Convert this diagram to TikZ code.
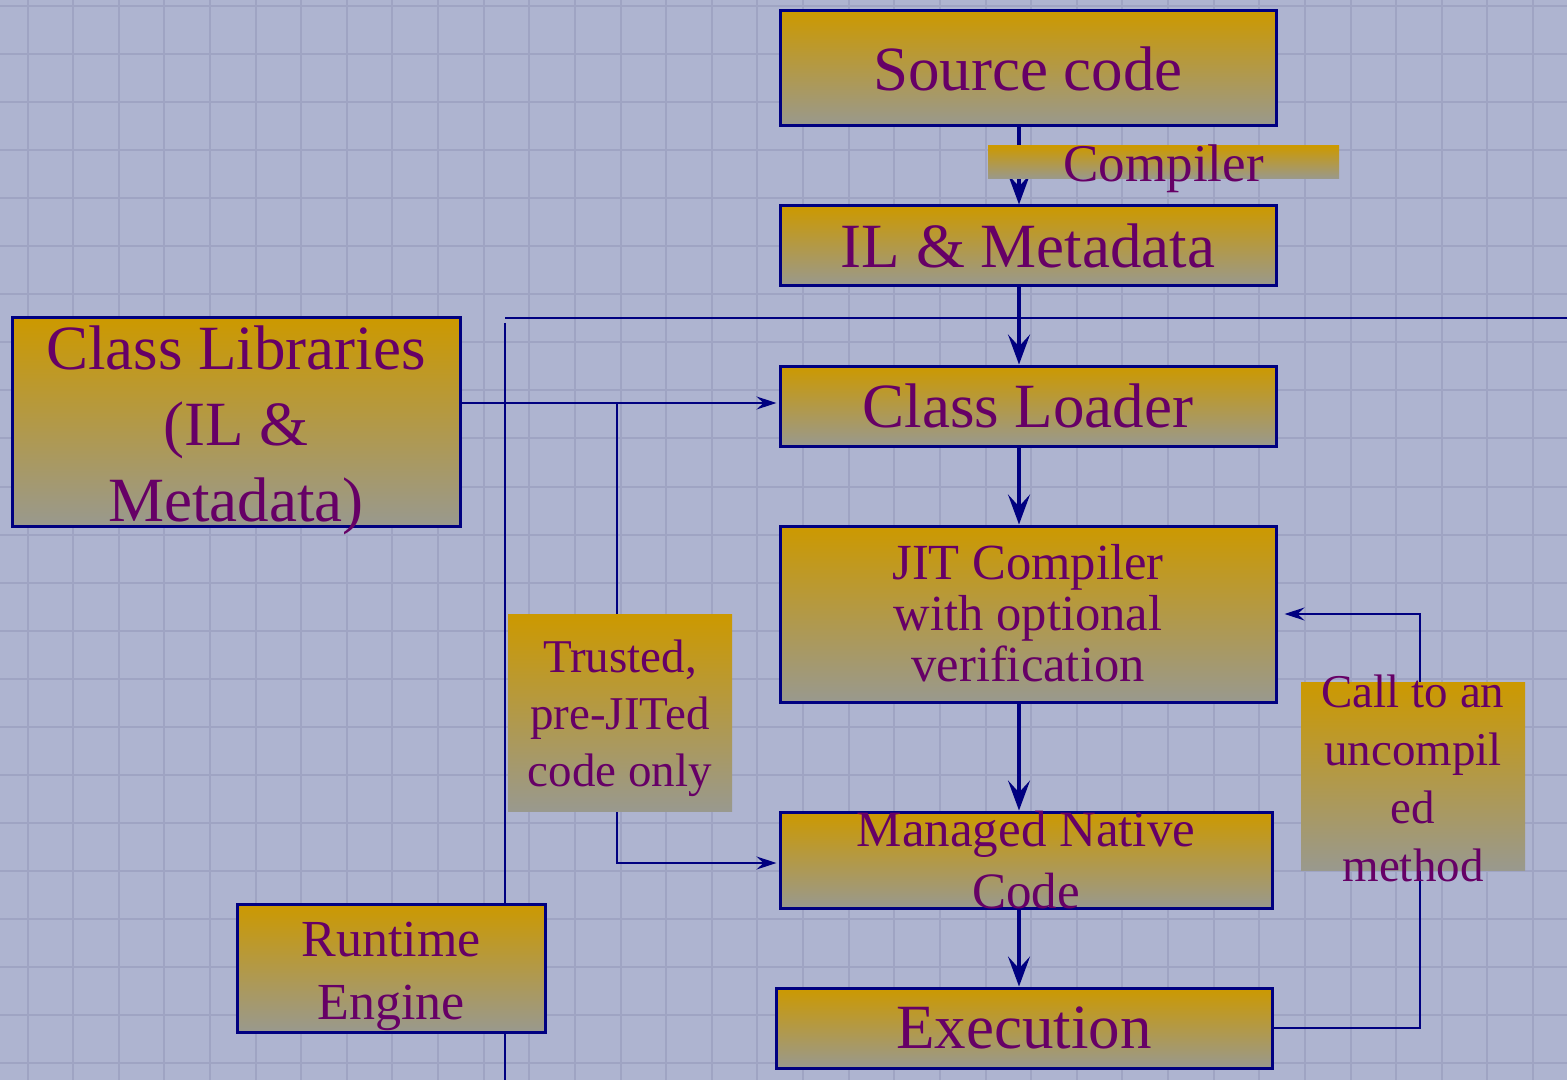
\documentclass[tikz,border=0pt]{standalone}
\usepackage{fontspec}
\setmainfont{Liberation Serif}
\usetikzlibrary{arrows.meta}

\definecolor{paper}{RGB}{174,180,208}
\definecolor{gridline}{RGB}{159,164,195}
\definecolor{edge}{RGB}{0,0,128}
\definecolor{ink}{RGB}{102,0,102}
\definecolor{goldtop}{RGB}{204,153,0}
\definecolor{greybot}{RGB}{153,153,142}

\tikzset{
  stepbox/.style={draw=edge, line width=1.5pt, top color=goldtop, bottom color=greybot, inner sep=0pt},
  tagbox/.style={top color=goldtop, bottom color=greybot, inner sep=0pt},
  boxtext/.style={text=ink, align=center, inner sep=0pt},
  bigfont/.style={font=\fontsize{31.5pt}{38pt}\selectfont},
  flow/.style={draw=edge, line width=1.75pt, -{Stealth[length=15pt,width=11pt,inset=6pt]}},
  link/.style={draw=edge, line width=1pt},
  linktip/.style={-{Stealth[length=10pt,width=6.5pt,inset=3.5pt]}},
  lane/.style={draw=edge, line width=1.25pt}
}

\begin{document}
\begin{tikzpicture}[x=0.5pt,y=-0.5pt]
  % paper and grid
  \fill[paper] (0,0) rectangle (1567,1080);
  \useasboundingbox (0,0) rectangle (1567,1080);
  \foreach \k in {0,...,33}
    \draw[gridline, line width=1pt] ({27.5+45.62*\k},0) -- ({27.5+45.62*\k},1080);
  \foreach \k in {0,...,22}
    \draw[gridline, line width=1pt] (0,{6+48.05*\k}) -- (1567,{6+48.05*\k});

  % swimlane boundaries
  \coordinate (laneW) at (505,318);
  \coordinate (laneE) at (1567,318);
  \coordinate (laneTop) at (505,323);
  \coordinate (laneBot) at (505,1080);
  \draw[lane] (laneW) -- (laneE);
  \draw[lane] (laneTop) -- (laneBot);

  % process boxes
  \node[stepbox, minimum width=248pt, minimum height=57.5pt] (src)  at (1028,68.5) {};
  \node[stepbox, minimum width=248pt, minimum height=40pt]   (il)   at (1028,246) {};
  \node[stepbox, minimum width=248pt, minimum height=40pt]   (cl)   at (1028,406) {};
  \node[stepbox, minimum width=248pt, minimum height=88pt]   (jit)  at (1028,614) {};
  \node[stepbox, minimum width=246pt, minimum height=48pt]   (mnc)  at (1026,860) {};
  \node[stepbox, minimum width=248pt, minimum height=40pt]   (exec) at (1024,1028) {};
  \node[stepbox, minimum width=224pt, minimum height=104pt]  (clib) at (236,422) {};
  \node[stepbox, minimum width=154pt, minimum height=64pt]   (rte)  at (391,968) {};

  % connectors
  \coordinate (spine) at (1019,0);
  \draw[flow] (src.south -| spine) -- (il.north -| spine);
  \draw[flow] (il.south -| spine) -- (cl.north -| spine);
  \draw[flow] (cl.south -| spine) -- (jit.north -| spine);
  \draw[flow] (jit.south -| spine) -- (mnc.north -| spine);
  \draw[flow] (mnc.south -| spine) -- (exec.north -| spine);

  \coordinate (split) at (617,403);
  \draw[link, linktip, shorten >=1pt] (clib.east |- split) -- (cl.west |- split);
  \draw[link, linktip, shorten >=1pt] (split) |- ([yshift=-1.5pt]mnc.west);

  \coordinate (loop) at (1420,614);
  \draw[link, linktip] (exec.east) -| (loop) -- ([xshift=3.5pt]jit.east);

  % annotation tags
  \node[tagbox, minimum width=175.5pt, minimum height=16.5pt] (compbg) at (1163.5,162.5) {};
  \node[tagbox, minimum width=112pt, minimum height=98.5pt]   (trustbg) at (620,712.5) {};
  \node[tagbox, minimum width=112pt, minimum height=94pt]     (callbg) at (1413,776) {};

  % texts
  \node[boxtext, bigfont] (srcT)  at (src)  {Source code};
  \node[boxtext, bigfont] (ilT)   at (il)   {IL \& Metadata};
  \node[boxtext, bigfont] (clT)   at (cl)   {Class Loader};
  \node[boxtext, bigfont] (execT) at (exec) {Execution};
  \node[boxtext, font=\fontsize{31.5pt}{38pt}\selectfont] (clibT) at ([yshift=-4pt]clib.center)
    {Class Libraries\\(IL \&\\Metadata)};
  \node[boxtext, font=\fontsize{25.3pt}{25.5pt}\selectfont] (jitT) at ([yshift=0.5pt]jit.center)
    {JIT Compiler\\with optional\\verification};
  \node[boxtext, font=\fontsize{25.5pt}{31pt}\selectfont] (mncT) at (mnc)
    {Managed Native\\Code};
  \node[boxtext, font=\fontsize{26pt}{31.5pt}\selectfont] (rteT) at ([yshift=-4pt]rte.center)
    {Runtime\\Engine};
  \node[boxtext, font=\fontsize{23.5pt}{28.5pt}\selectfont] (trustT) at ([yshift=-3pt]trustbg.center)
    {Trusted,\\pre-JITed\\code only};
  \node[boxtext, font=\fontsize{23.5pt}{29pt}\selectfont] (callT) at ([yshift=-1pt]callbg.center)
    {Call to an\\uncompil\\ed\\method};
  \node[boxtext, font=\fontsize{26.5pt}{30pt}\selectfont, anchor=base] (compT) at (1163.5,182)
    {Compiler};
\end{tikzpicture}
\end{document}
